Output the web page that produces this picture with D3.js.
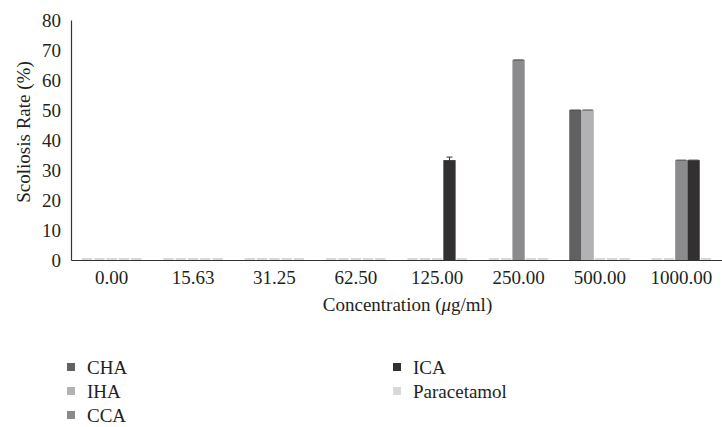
<!DOCTYPE html>
<html>
  <head>
    <style>
      body { margin: 0; background: #fff; }
      svg text { font-family: "Liberation Serif", "DejaVu Serif", serif !important; fill: #231f20; }
    </style>
    <script src="https://cdn.jsdelivr.net/npm/d3@7/dist/d3.min.js"></script>
  </head>
  <body>
    <script>
      // data
      const concentrations = ['0.00', '15.63', '31.25', '62.50', '125.00', '250.00', '500.00', '1000.00'];
      const seriesNames = ['CHA', 'IHA', 'CCA', 'ICA', 'Paracetamol'];
      const seriesColors = ['#616162', '#b2b2b4', '#8b8b8d', '#323031', '#d8d8d8'];
      const chaValues = [0, 0, 0, 0, 0, 0, 50, 0];
      const ihaValues = [0, 0, 0, 0, 0, 0, 50, 0];
      const ccaValues = [0, 0, 0, 0, 0, 66.7, 0, 33.3];
      const icaValues = [0, 0, 0, 0, 33.3, 0, 0, 33.3];
      const paracetamolValues = [0, 0, 0, 0, 0, 0, 0, 0];
      const icaErrors = [0, 0, 0, 0, 1.0, 0, 0, 0];
      const yTicks = [0, 10, 20, 30, 40, 50, 60, 70, 80];

      const allValues = [chaValues, ihaValues, ccaValues, icaValues, paracetamolValues];
      const allErrors = [null, null, null, icaErrors, null];

      const width = 722, height = 427;
      const margin = { top: 20, right: 0, bottom: 167, left: 71 };
      const fontFam = '"Liberation Serif", "DejaVu Serif", serif';

      const svg = d3.select('body').append('svg')
        .attr('width', width)
        .attr('height', height)
        .attr('font-family', fontFam);

      const x0 = d3.scaleBand()
        .domain(concentrations)
        .range([margin.left, width - margin.right])
        .paddingInner(0.245)
        .paddingOuter(0.1225);
      const x1 = d3.scaleBand()
        .domain(seriesNames)
        .range([0, x0.bandwidth()]);
      const y = d3.scaleLinear()
        .domain([0, 80])
        .range([height - margin.bottom, margin.top]);

      const bars = [];
      seriesNames.forEach((s, si) => {
        concentrations.forEach((c, ci) => {
          bars.push({
            series: s,
            cat: c,
            value: allValues[si][ci],
            err: allErrors[si] ? allErrors[si][ci] : 0,
            color: seriesColors[si]
          });
        });
      });

      // bars
      svg.append('g').selectAll('rect')
        .data(bars)
        .join('rect')
        .attr('x', d => x0(d.cat) + x1(d.series))
        .attr('y', d => y(d.value))
        .attr('width', x1.bandwidth())
        .attr('height', d => y(0) - y(d.value))
        .attr('fill', d => d.color);

      // error bars (zero errors still show a cap)
      const eb = svg.append('g').attr('stroke-width', 1);
      bars.forEach(d => {
        const cx = x0(d.cat) + x1(d.series) + x1.bandwidth() / 2;
        const half = x1.bandwidth() / 2 - 1;
        const capHalf = d.err > 0 ? 3 : half;
        const col = d.value > 0 ? '#4a4a4a' : '#b0b0b0';
        const yTop = y(d.value + d.err) - (d.value > 0 ? 0 : 1);
        const yBot = y(d.value - d.err) - (d.value > 0 ? 0 : 1);
        if (d.err > 0) {
          eb.append('line').attr('x1', cx).attr('x2', cx).attr('y1', yTop).attr('y2', yBot).attr('stroke', '#333');
          eb.append('line').attr('x1', cx - capHalf).attr('x2', cx + capHalf).attr('y1', yBot).attr('y2', yBot).attr('stroke', '#333');
        }
        eb.append('line')
          .attr('x1', cx - capHalf).attr('x2', cx + capHalf)
          .attr('y1', yTop).attr('y2', yTop)
          .attr('stroke', d.err > 0 ? '#333' : col);
      });

      // axes
      const yAxis = d3.axisLeft(y).tickValues(yTicks).tickSize(0).tickPadding(10);
      const gy = svg.append('g')
        .attr('transform', `translate(${margin.left},0)`)
        .call(yAxis)
        .attr('font-family', fontFam);
      gy.select('.domain').attr('stroke', '#333').attr('stroke-width', 1.2);
      gy.selectAll('text').style('font-size', '19px');

      const xAxis = d3.axisBottom(x0).tickSize(0).tickPadding(11);
      const gx = svg.append('g')
        .attr('transform', `translate(0,${y(0)})`)
        .call(xAxis)
        .attr('font-family', fontFam);
      gx.select('.domain').attr('stroke', '#333').attr('stroke-width', 1.2);
      gx.selectAll('text').style('font-size', '19px');

      // axis titles
      svg.append('text')
        .attr('transform', `translate(23,${(y(0) + y(80)) / 2 - 8}) rotate(-90)`)
        .attr('text-anchor', 'middle')
        .attr('dy', '0.35em')
        .style('font-size', '19px')
        .text('Scoliosis Rate (%)');

      const xt = svg.append('text')
        .attr('x', (margin.left + width) / 2 + 11)
        .attr('y', 311)
        .attr('text-anchor', 'middle')
        .style('font-size', '19px');
      xt.append('tspan').text('Concentration (');
      xt.append('tspan').style('font-style', 'italic').text('μ');
      xt.append('tspan').text('g/ml)');

      // legend
      const legendPos = [
        { x: 67, y: 367 }, { x: 67, y: 391 }, { x: 67, y: 415 },
        { x: 393, y: 367 }, { x: 393, y: 391 }
      ];
      const lg = svg.append('g').selectAll('g')
        .data(seriesNames)
        .join('g')
        .attr('transform', (d, i) => `translate(${legendPos[i].x},${legendPos[i].y})`);
      lg.append('rect')
        .attr('x', 0).attr('y', -4)
        .attr('width', 8).attr('height', 8)
        .attr('fill', (d, i) => seriesColors[i]);
      lg.append('text')
        .attr('x', 20)
        .attr('dy', '0.35em')
        .style('font-size', '19px')
        .text(d => d);
    </script>
  </body>
</html>
